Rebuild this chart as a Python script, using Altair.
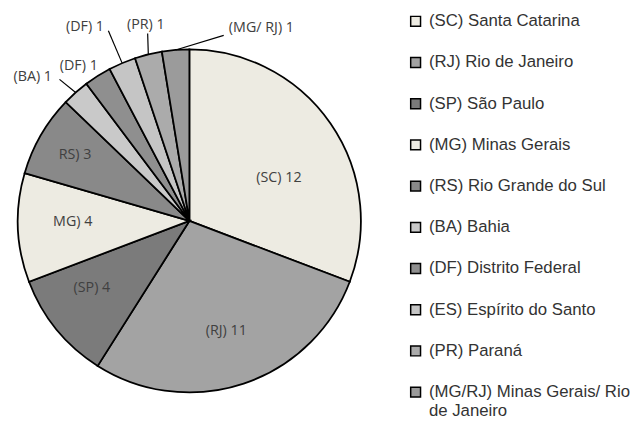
import math
import altair as alt
import pandas as pd

# ---- data ----
names = [
    "(SC) Santa Catarina",
    "(RJ) Rio de Janeiro",
    "(SP) São Paulo",
    "(MG) Minas Gerais",
    "(RS) Rio Grande do Sul",
    "(BA) Bahia",
    "(DF) Distrito Federal",
    "(ES) Espírito do Santo",
    "(PR) Paraná",
    "(MG/RJ) Minas Gerais/ Rio de Janeiro",
]
values = [12, 11, 4, 4, 3, 1, 1, 1, 1, 1]
slice_labels = ["(SC) 12", "(RJ) 11", "(SP) 4", "MG) 4", "RS) 3",
                "(BA) 1", "(DF) 1", "(DF) 1", "(PR) 1", "(MG/ RJ) 1"]

# ---- styling / layout ----
colors = ["#EDEBE2", "#A3A3A3", "#7B7B7B", "#EDEBE2", "#898989",
          "#C9C9C9", "#8F8F8F", "#C5C5C5", "#ABABAB", "#9B9B9B"]
CX, CY, R = 184, 213, 174
# label placement: (angle offset from slice middle in degrees, radius factor)
label_layout = [(8.8, 0.58), (0, 0.68), (4.7, 0.69), (1.8, 0.68), (0, 0.77),
                (-5.9, 1.24), (-3.2, 1.11), (-5.2, 1.285), (1.3, 1.17), (25.1, 1.2)]
# leader line ends for outside labels: index -> (angle offset, radius factor)
leader_layout = {5: (-1.0, 1.12), 7: (0.0, 1.205), 8: (1.3, 1.12), 9: (15.1, 1.10)}

total = sum(values)
rows, lines = [], []
cum = 0
for i, (n, v, lab) in enumerate(zip(names, values, slice_labels)):
    mid = (cum + v / 2) / total * 360
    cum += v
    da, rf = label_layout[i]
    a = math.radians(mid + da)
    rows.append({"idx": i, "name": n, "value": v, "lab": lab,
                 "lx": CX + rf * R * math.sin(a), "ly": CY - rf * R * math.cos(a)})
    if i in leader_layout:
        la, lr = leader_layout[i]
        a0 = math.radians(mid)
        a1 = math.radians(mid + la)
        lines.append({"grp": i, "o": 0, "x": CX + R * math.sin(a0), "y": CY - R * math.cos(a0)})
        lines.append({"grp": i, "o": 1, "x": CX + lr * R * math.sin(a1), "y": CY - lr * R * math.cos(a1)})

df = pd.DataFrame(rows)
df_lines = pd.DataFrame(lines)

label_expr = ("datum.label == '(MG/RJ) Minas Gerais/ Rio de Janeiro' ? "
              "['(MG/RJ) Minas Gerais/ Rio', 'de Janeiro'] : datum.label")

arc = alt.Chart(df).mark_arc(outerRadius=R, stroke="black", strokeWidth=1.8).encode(
    theta=alt.Theta("value:Q", stack=True),
    order=alt.Order("idx:Q"),
    color=alt.Color(
        "name:N",
        scale=alt.Scale(domain=names, range=colors),
        legend=alt.Legend(
            title=None, orient="none", legendX=405, legendY=2,
            symbolType="square", symbolSize=100, symbolStrokeColor="black",
            symbolStrokeWidth=1.5, labelFont="Liberation Sans", labelFontSize=17,
            labelColor="#333333", labelOffset=5, rowPadding=23.8, labelLimit=400,
            labelExpr=label_expr,
        ),
    ),
    x=alt.value(CX),
    y=alt.value(CY),
)

text = alt.Chart(df).mark_text(font="Open Sans", fontSize=14.5, color="#404040",
                               align="center", baseline="middle").encode(
    x=alt.X("lx:Q", scale=None, axis=None),
    y=alt.Y("ly:Q", scale=None, axis=None),
    text="lab:N",
)

leaders = alt.Chart(df_lines).mark_line(color="black", strokeWidth=1.2).encode(
    x=alt.X("x:Q", scale=None, axis=None),
    y=alt.Y("y:Q", scale=None, axis=None),
    detail="grp:N",
    order="o:Q",
)

chart = alt.layer(arc, leaders, text).properties(
    width=395, height=400, padding=0
).configure_view(stroke=None)

chart.save("out.html", embed_options={"renderer": "svg", "actions": False})
